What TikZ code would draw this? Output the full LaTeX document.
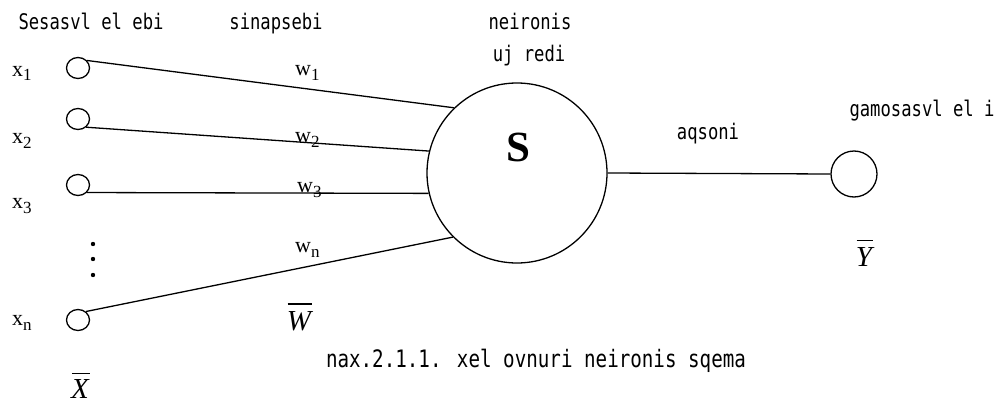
\documentclass[tikz,border=0pt]{standalone}
\usepackage{fontspec}
\setmainfont{Liberation Serif}
\newfontfamily\geo[FakeStretch=0.8]{DejaVu Sans Mono}
\usetikzlibrary{shapes.geometric}
\tikzset{
  ln/.style={line width=1.3pt},
  ovl/.style={line width=1.5pt},
  inp/.style={ellipse,draw,line width=1.3pt,minimum width=23pt,minimum height=21pt,inner sep=0pt},
  geotxt/.style={anchor=base,inner sep=0pt,font=\geo\fontsize{21.5}{24}\selectfont},
  captxt/.style={anchor=base,inner sep=0pt,font=\geo\fontsize{24}{27}\selectfont},
  sym/.style={anchor=base west,inner sep=0pt,font=\fontsize{22}{24}\selectfont},
  vec/.style={inner sep=0pt,font=\itshape\fontsize{29}{30}\selectfont}
}
\newcommand{\lowsub}[1]{\raisebox{-5pt}{\fontsize{17}{18}\selectfont #1}}
\begin{document}
\begin{tikzpicture}[x=1pt,y=-1pt]
\useasboundingbox (0,0) rectangle (1006,404);
% input units
\node[inp] (c1) at (78,68) {};
\node[inp] (c2) at (78,119) {};
\node[inp] (c3) at (78,185) {};
\node[inp] (cn) at (78,320) {};
% neuron body
\node[circle,draw,line width=1.3pt,minimum size=180pt,inner sep=0pt] (S) at (517,173) {};
\node[inner sep=0pt,font=\bfseries\fontsize{43}{45}\selectfont] (Slab) at (518,147) {S};
% output
\node[circle,draw,line width=1.3pt,minimum size=46pt,inner sep=0pt] (out) at (854,174) {};
% connectors
\draw[ln] (c1.40) -- (S.134);
\draw[ln] (c2.-45) -- (S.166);
\draw[ln] (c3.-40) -- (S.193);
\draw[ln] (cn.47) -- (S.225);
\draw[ln] (S.east) -- (out.west);
% dots
\fill (93,244) circle (2.2);
\fill (93,259) circle (2.2);
\fill (93,275) circle (2.2);
% input labels
\node[sym] (x1) at (12,76) {x\lowsub{1}};
\node[sym] (x2) at (12,143) {x\lowsub{2}};
\node[sym] (x3) at (12,208) {x\lowsub{3}};
\node[sym] (xn) at (12,325) {x\lowsub{n}};
% weight labels
\node[sym] (w1) at (295,75) {w\lowsub{1}};
\node[sym] (w2) at (295,142) {w\lowsub{2}};
\node[sym] (w3) at (297,192) {w\lowsub{3}};
\node[sym] (wn) at (295,252) {w\lowsub{n}};
% vectors with overbars
\node[vec] (X) at (80,389) {X};
\node[vec] (W) at (299,321) {W};
\node[vec] (Y) at (864,257) {Y};
\draw[ovl] ([xshift=1pt,yshift=6pt]X.north west) -- ([xshift=1pt,yshift=6pt]X.north east);
\draw[ovl] ([xshift=1pt,yshift=7pt]W.north west) -- ([xshift=1pt,yshift=7pt]W.north east);
\draw[ovl] ([xshift=1pt,yshift=7pt]Y.north west) -- ([xshift=1pt,yshift=7pt]Y.north east);
% Georgian (Latin transliterated) texts
\node[geotxt] (t1) at (91,30) {Sesasvl el ebi};
\node[geotxt] (t2) at (276,30) {sinapsebi};
\node[geotxt] (t3) at (530,30) {neironis};
\node[geotxt] (t4) at (529,62) {uj redi};
\node[geotxt] (t5) at (708,139) {aqsoni};
\node[geotxt] (t6) at (922,116) {gamosasvl el i};
\node[captxt] (cap) at (536,367) {nax.2.1.1. xel ovnuri neironis sqema};
\end{tikzpicture}
\end{document}
